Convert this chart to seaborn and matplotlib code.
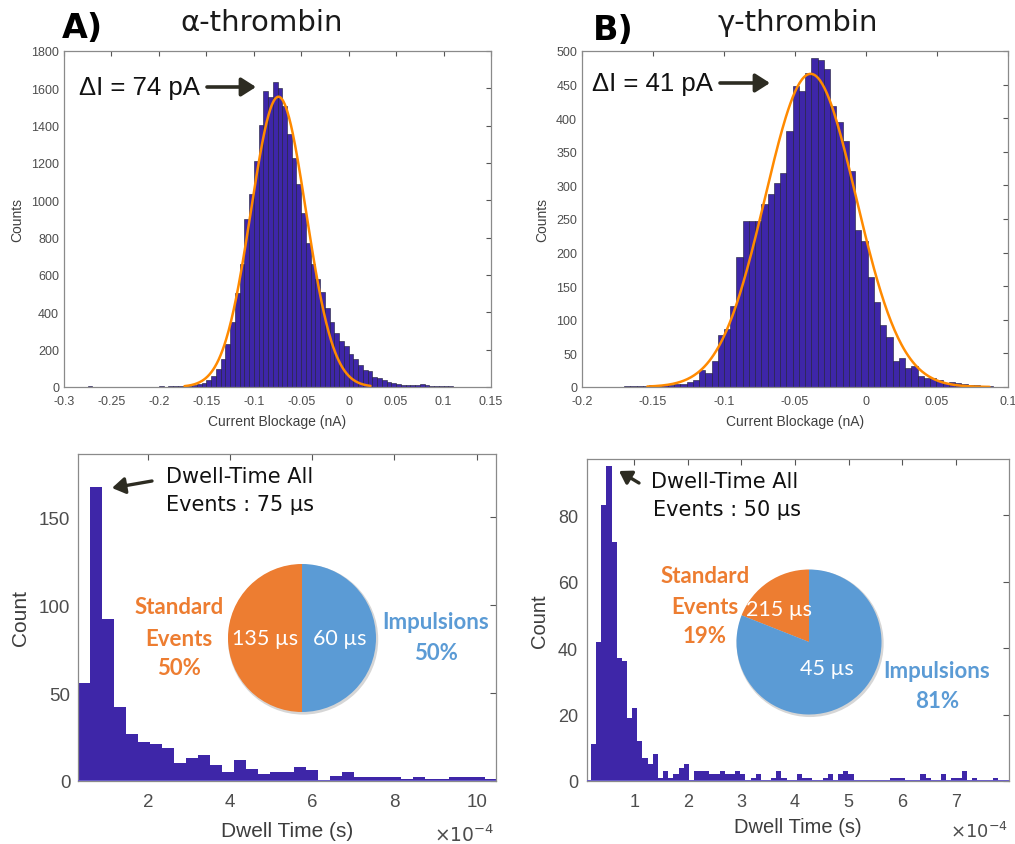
import numpy as np
import pandas as pd
import matplotlib
matplotlib.use("Agg")
import matplotlib.pyplot as plt
import seaborn as sns
from matplotlib.patches import FancyArrowPatch, Circle

# ---------------- data ----------------
# Panel A top: current blockage histogram (nA), bin width 0.005 starting at -0.285
a_bin_start = -0.285
a_bin_width = 0.005
a_counts = [0, 2, 3, 2, 1, 1, 2, 1, 2, 2, 2, 1, 2, 2, 1, 2, 2, 3, 2, 3,
            3, 4, 6, 8, 10, 14, 22, 35, 60, 95, 150, 230, 350, 505, 657, 898,
            1032, 1211, 1402, 1586, 1555, 1634, 1604, 1505, 1354, 1229, 1086, 934, 773, 657,
            577, 509, 425, 348, 291, 246, 220, 175, 148, 116, 89, 86, 55, 50,
            37, 27, 23, 14, 11, 9, 9, 11, 14, 11, 7, 5, 4, 3, 3, 2, 2, 2, 2, 1]
a_fit = dict(mu=-0.074, sigma=0.029, amp=1555, x0=-0.173, x1=0.023)
a_xticks = [-0.3, -0.25, -0.2, -0.15, -0.1, -0.05, 0, 0.05, 0.1, 0.15]
a_xticklabels = ['-0.3', '-0.25', '-0.2', '-0.15', '-0.1', '-0.05', '0', '0.05', '0.1', '0.15']
a_yticks = [0, 200, 400, 600, 800, 1000, 1200, 1400, 1600, 1800]

# Panel B top: bin width 0.0044 starting at -0.1704
b_bin_start = -0.1704
b_bin_width = 0.0044
b_counts = [1, 2, 1, 2, 3, 2, 3, 3, 4, 5, 7, 11, 26, 21, 39, 78,
            86, 120, 193, 247, 247, 247, 272, 287, 304, 319, 381, 448, 440, 468,
            489, 487, 473, 418, 394, 366, 322, 234, 217, 163, 126, 92, 74, 39,
            43, 29, 31, 16, 14, 13, 11, 6, 7, 6, 4, 3, 3, 2, 2]
b_fit = dict(mu=-0.039, sigma=0.032, amp=466, x0=-0.154, x1=0.087)
b_xticks = [-0.2, -0.15, -0.1, -0.05, 0, 0.05, 0.1]
b_xticklabels = ['-0.2', '-0.15', '-0.1', '-0.05', '0', '0.05', '0.1']
b_yticks = [0, 50, 100, 150, 200, 250, 300, 350, 400, 450, 500]

# Panel A bottom: dwell time (s)
c_bin_start = 0.30e-4
c_bin_width = 0.2915e-4
c_counts = [56, 167, 92, 42, 27, 22, 21, 19, 10, 13, 15, 9, 5, 12, 7, 4, 5, 5, 8, 6,
            0, 3, 5, 2, 2, 2, 2, 1, 2, 1, 1, 2, 2, 2, 1]
c_xticks = [2e-4, 4e-4, 6e-4, 8e-4, 10e-4]
c_xticklabels = ['2', '4', '6', '8', '10']
c_yticks = [0, 50, 100, 150]
c_pie = [50, 50]          # standard events, impulsions

# Panel B bottom
d_bin_start = 0.195e-4
d_bin_width = 0.096e-4
d_counts = [11, 42, 83, 95, 72, 37, 36, 19, 22, 12, 7, 5, 8,
            1, 3, 1, 2, 4, 5, 0, 3, 3, 3, 2, 2,
            3, 2, 2, 3, 2, 0, 1, 2, 0, 0, 1, 3, 1, 0, 0, 2, 1, 1, 0, 0, 1, 2, 0, 2, 3, 2,
            0, 0, 0, 0, 0, 0, 0, 1, 1, 1, 0, 0, 0,
            2, 1, 0, 0, 2, 0, 1, 1, 3, 0, 1, 0, 0, 0, 1, 0]
d_xticks = [1e-4, 2e-4, 3e-4, 4e-4, 5e-4, 6e-4, 7e-4]
d_xticklabels = ['1', '2', '3', '4', '5', '6', '7']
d_yticks = [0, 20, 40, 60, 80]
d_pie = [19, 81]

# ---------------- styling ----------------
W, H = 1015, 845
BAR = '#3E26A8'
FIT = '#FF8A00'
ORANGE = '#ED7D31'
BLUE = '#5B9BD5'
ARROW = '#2d2c22'

sns.set_style("white")
plt.rcParams['font.family'] = ['Liberation Sans', 'DejaVu Sans']
plt.rcParams['axes.unicode_minus'] = False
plt.rcParams['mathtext.fontset'] = 'dejavusans'

fig = plt.figure(figsize=(W / 100, H / 100), dpi=100)


def box(l, t, r, b):
    return [l / W, 1 - b / H, (r - l) / W, (b - t) / H]


def fxy(x, y):
    return (x / W, 1 - y / H)


def draw_hist(ax, start, width, counts, ec, lw):
    counts = [float(c) for c in counts]
    edges = [start + width * i for i in range(len(counts) + 1)]
    centers = [(edges[i] + edges[i + 1]) / 2 for i in range(len(counts))]
    df = pd.DataFrame({'x': centers, 'w': counts})
    sns.histplot(data=df, x='x', weights='w', bins=edges, ax=ax, color=BAR,
                 alpha=1, edgecolor=ec, linewidth=lw, stat='count')


def style(ax, tsize, tlen, xpad, ypad, spine='#8a8a8a'):
    for s in ax.spines.values():
        s.set_visible(True)
        s.set_color(spine)
        s.set_linewidth(0.9)
    ax.tick_params(axis='both', direction='in', top=True, right=True, length=tlen,
                   width=0.8, color='#555555', labelsize=tsize, labelcolor='#4d4d4d')
    ax.tick_params(axis='x', pad=xpad)
    ax.tick_params(axis='y', pad=ypad)
    ax.grid(False)


def fit_line(ax, p):
    xs = np.linspace(p['x0'], p['x1'], 300)
    ys = p['amp'] * np.exp(-(xs - p['mu']) ** 2 / (2 * p['sigma'] ** 2))
    sns.lineplot(x=xs, y=ys, ax=ax, color=FIT, linewidth=1.8, sort=False)


def arrow(p0, p1, lw=2.6, ms=16):
    a = FancyArrowPatch(fxy(*p0), fxy(*p1), transform=fig.transFigure,
                        arrowstyle='-|>,head_length=0.55,head_width=0.35',
                        mutation_scale=ms, lw=lw, color=ARROW, shrinkA=0, shrinkB=0)
    fig.add_artist(a)


# ---------------- top-left ----------------
ax1 = fig.add_axes(box(64, 52, 491, 388))
draw_hist(ax1, a_bin_start, a_bin_width, a_counts, '#1c1a33', 0.4)
fit_line(ax1, a_fit)
ax1.set_xlim(-0.3, 0.15)
ax1.set_ylim(0, 1800)
ax1.set_xticks(a_xticks)
ax1.set_xticklabels(a_xticklabels)
ax1.set_yticks(a_yticks)
style(ax1, 9, 3.5, 5.5, 3.5)
ax1.set_xlabel('Current Blockage (nA)', fontsize=10, color='#404040')
ax1.set_ylabel('Counts', fontsize=10, color='#404040')
ax1.xaxis.set_label_coords(0.5, (388 - 422) / 336)
ax1.xaxis.label.set_va('center')
ax1.yaxis.set_label_coords((17.5 - 64) / 427, 0.5)
ax1.yaxis.label.set_va('center')

# ---------------- top-right ----------------
ax2 = fig.add_axes(box(582, 52, 1008, 388))
draw_hist(ax2, b_bin_start, b_bin_width, b_counts, '#1c1a33', 0.4)
fit_line(ax2, b_fit)
ax2.set_xlim(-0.2, 0.1)
ax2.set_ylim(0, 500)
ax2.set_xticks(b_xticks)
ax2.set_xticklabels(b_xticklabels)
ax2.set_yticks(b_yticks)
style(ax2, 9, 3.5, 5.5, 3.5)
ax2.set_xlabel('Current Blockage (nA)', fontsize=10, color='#404040')
ax2.set_ylabel('Counts', fontsize=10, color='#404040')
ax2.xaxis.set_label_coords(0.5, (388 - 422) / 336)
ax2.xaxis.label.set_va('center')
ax2.yaxis.set_label_coords((542 - 582) / 426, 0.5)
ax2.yaxis.label.set_va('center')

# ---------------- bottom-left ----------------
ax3 = fig.add_axes(box(78, 455, 496, 782))
draw_hist(ax3, c_bin_start, c_bin_width, c_counts, BAR, 0)
ax3.axhline(0, color='#6c5fc7', lw=1.4, zorder=3)
ax3.set_xlim(0.30e-4, 10.47e-4)
ax3.set_ylim(0, 186)
ax3.set_xticks(c_xticks)
ax3.set_xticklabels(c_xticklabels)
ax3.set_yticks(c_yticks)
style(ax3, 13.5, 4.5, 9, 5.5)
ax3.set_xlabel('Dwell Time (s)', fontsize=15, color='#3d3d3d')
ax3.set_ylabel('Count', fontsize=15, color='#3d3d3d')
ax3.xaxis.set_label_coords(0.5, (782 - 832) / 327)
ax3.xaxis.label.set_va('center')
ax3.yaxis.set_label_coords((20 - 78) / 418, 0.5)
ax3.yaxis.label.set_va('center')
fig.text(*fxy(494, 835), r'$\times10^{-4}$', fontsize=13.5, color='#4d4d4d',
         ha='right', va='center')

# ---------------- bottom-right ----------------
ax4 = fig.add_axes(box(587, 460, 1009, 782))
draw_hist(ax4, d_bin_start, d_bin_width, d_counts, BAR, 0)
ax4.axhline(0, color='#6c5fc7', lw=1.4, zorder=3)
ax4.set_xlim(0.12e-4, 7.99e-4)
ax4.set_ylim(0, 97)
ax4.set_xticks(d_xticks)
ax4.set_xticklabels(d_xticklabels)
ax4.set_yticks(d_yticks)
style(ax4, 13, 4.5, 9, 6.5)
ax4.set_xlabel('Dwell Time (s)', fontsize=14.5, color='#3d3d3d')
ax4.set_ylabel('Count', fontsize=14.5, color='#3d3d3d')
ax4.xaxis.set_label_coords(0.5, (782 - 828) / 322)
ax4.xaxis.label.set_va('center')
ax4.yaxis.set_label_coords((540 - 587) / 422, 0.5)
ax4.yaxis.label.set_va('center')
fig.text(*fxy(1008, 832), r'$\times10^{-4}$', fontsize=13, color='#4d4d4d',
         ha='right', va='center')


# ---------------- pies ----------------
def pie(cx, cy, r, vals):
    k = 1.06
    pax = fig.add_axes(box(cx - r * k, cy - r * k, cx + r * k, cy + r * k))
    pax.add_patch(Circle((0.015, -0.02), 1.015, color='#d6d6d6', zorder=0, lw=0))
    pax.pie(vals, colors=[ORANGE, BLUE], startangle=90, counterclock=True,
            wedgeprops=dict(linewidth=0))
    pax.set_xlim(-k, k)
    pax.set_ylim(-k, k)
    pax.set_aspect('equal')
    pax.axis('off')


pie(302, 639, 74, c_pie)
pie(809, 643, 72.5, d_pie)

# ---------------- texts ----------------
fig.text(*fxy(62, 28), 'A)', fontsize=24, fontweight='bold', family='DejaVu Sans',
         ha='left', va='center', color='black')
fig.text(*fxy(593, 31), 'B)', fontsize=24, fontweight='bold', family='DejaVu Sans',
         ha='left', va='center', color='black')
fig.text(*fxy(262, 23), 'α-thrombin', fontsize=21, family='DejaVu Sans',
         ha='center', va='center', color='#1a1a1a')
fig.text(*fxy(798, 23), 'γ-thrombin', fontsize=21, family='DejaVu Sans',
         ha='center', va='center', color='#1a1a1a')

fig.text(*fxy(79, 88), 'ΔI = 74 pA', fontsize=18.5, ha='left', va='center', color='#111111')
arrow((207, 88), (256, 88))
fig.text(*fxy(592, 84), 'ΔI = 41 pA', fontsize=18.5, ha='left', va='center', color='#111111')
arrow((720, 84), (770, 84))

fig.text(*fxy(240, 477), 'Dwell-Time All', fontsize=15, family='DejaVu Sans',
         ha='center', va='center', color='#111111')
fig.text(*fxy(240, 505), 'Events : 75 µs', fontsize=15, family='DejaVu Sans',
         ha='center', va='center', color='#111111')
arrow((152, 482), (112, 489), lw=2.4, ms=14)

fig.text(*fxy(725, 482), 'Dwell-Time All', fontsize=15, family='DejaVu Sans',
         ha='center', va='center', color='#111111')
fig.text(*fxy(727, 510), 'Events : 50 µs', fontsize=15, family='DejaVu Sans',
         ha='center', va='center', color='#111111')
arrow((639, 484), (619, 472), lw=2.4, ms=13)

for x, y, s, c in [(179, 608, 'Standard', ORANGE), (179, 639, 'Events', ORANGE),
                   (179, 669, '50%', ORANGE),
                   (436, 623, 'Impulsions', BLUE), (436, 653, '50%', BLUE),
                   (705, 577, 'Standard', ORANGE), (705, 607, 'Events', ORANGE),
                   (705, 637, '19%', ORANGE),
                   (937, 672, 'Impulsions', BLUE), (937, 702, '81%', BLUE)]:
    fig.text(*fxy(x, y), s, fontsize=16, fontweight='bold', family='Lato',
             ha='center', va='center', color=c)

for x, y, s in [(265, 639, '135 µs'), (340, 639, '60 µs'),
                (779, 610, '215 µs'), (827, 669, '45 µs')]:
    fig.text(*fxy(x, y), s, fontsize=15.5, family='Lato',
             ha='center', va='center', color='white')

fig.savefig('out.png', dpi=100)
